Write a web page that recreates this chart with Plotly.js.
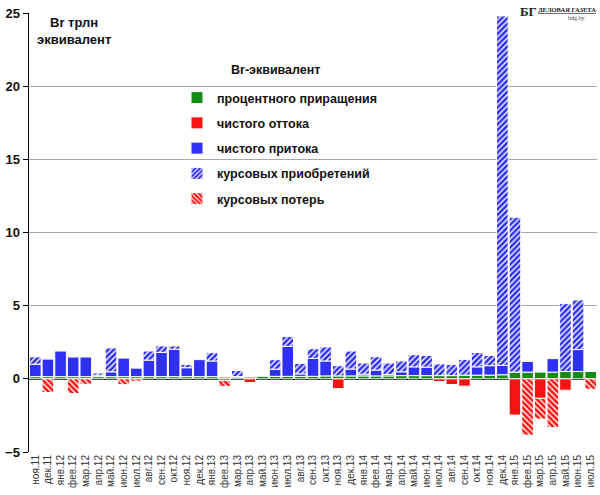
<!DOCTYPE html>
<html>
<head>
<meta charset="utf-8">
<script src="https://cdn.plot.ly/plotly-3.0.1.min.js"></script>
<style>
	body { margin: 0; background: #fff; }
	#chart { width: 600px; height: 495px; outline: 1px solid #9a9a9a; outline-offset: -1px; }
</style>
</head>
<body>
<div id="chart"></div>
<script>

// months, Nov 2011 .. Jul 2015
const months = [
	'ноя.11','дек.11',
	'янв.12','фев.12','мар.12','апр.12','май.12','июн.12','июл.12','авг.12','сен.12','окт.12','ноя.12','дек.12',
	'янв.13','фев.13','мар.13','апр.13','май.13','июн.13','июл.13','авг.13','сен.13','окт.13','ноя.13','дек.13',
	'янв.14','фев.14','мар.14','апр.14','май.14','июн.14','июл.14','авг.14','сен.14','окт.14','ноя.14','дек.14',
	'янв.15','фев.15','мар.15','апр.15','май.15','июн.15','июл.15'
];

// процентного приращения
const interestGain = [
	0.15,0.15,
	0.15,0.15,0.15,0.15,0.15,0.15,0.15,0.15,0.15,0.15,0.15,0.15,
	0.15,0.12,0.12,0.12,0.17,0.17,0.17,0.17,0.17,0.2,0.2,0.2,
	0.2,0.2,0.2,0.22,0.22,0.22,0.22,0.22,0.25,0.25,0.25,0.28,
	0.46,0.46,0.46,0.46,0.5,0.5,0.5
];

// чистого оттока
const netOutflow = [
	null,null,
	null,null,null,null,null,null,null,null,null,null,null,null,
	null,-0.12,null,-0.25,null,null,null,null,null,null,-0.67,null,
	null,null,null,null,null,null,-0.19,-0.39,-0.5,null,null,null,
	-2.48,null,-1.33,null,-0.78,null,null
];

// чистого притока
const netInflow = [
	0.85,1.2,
	1.75,1.34,1.34,0.1,0.33,1.27,0.58,1.13,1.66,1.87,0.61,1.16,
	1.07,null,0.03,null,null,0.49,2.05,0.17,1.23,1.02,null,0.47,
	0.12,0.4,0.1,0.26,0.6,0.58,null,null,null,0.57,0.65,0.64,
	null,0.73,null,0.92,null,1.5,null
];

// курсовых приобретений
const fxGains = [
	0.5,null,
	null,null,null,0.15,1.63,null,null,0.62,0.44,0.23,0.23,null,
	0.57,null,0.42,null,null,0.65,0.67,0.72,0.66,0.96,0.7,1.23,
	0.76,0.91,0.78,0.74,0.83,0.8,0.8,0.75,1.08,0.98,0.7,23.88,
	10.58,null,null,null,4.64,3.39,null
];

// курсовых потерь
const fxLosses = [
	null,-0.94,
	null,-1.0,-0.37,null,null,-0.4,-0.16,null,null,null,null,null,
	null,-0.4,null,null,null,null,null,null,null,null,null,null,
	null,null,null,null,null,null,null,null,null,null,null,null,
	null,-3.85,-1.42,-3.33,null,null,-0.71
];

(function () {

	'use strict';

	const green = '#158a15';
	const red = '#f51414';
	const blue = '#3030f2';

	const font = 'Liberation Sans, Arial, sans-serif';
	const serif = 'Liberation Serif, serif';

	/**
	* one stacked bar trace
	*/
	const barTrace = ( name, y, color, hatch ) => {
		const marker = {
			color,
			line: { color: '#ffffff', width: 1 }
		};
		if ( hatch ) {
			marker.pattern = {
				shape: hatch,
				bgcolor: color,
				fgcolor: '#ffffff',
				size: 4,
				solidity: 0.35
			};
		}
		return {
			type: 'bar',
			x: months,
			y,
			name,
			marker,
			legendgroup: name,
			hoverinfo: 'x+y+name'
		};
	};

	const data = [
		barTrace( 'процентного приращения', interestGain, green ),
		barTrace( 'чистого оттока', netOutflow, red ),
		barTrace( 'чистого притока', netInflow, blue ),
		barTrace( 'курсовых приобретений', fxGains, blue, '/' ),
		barTrace( 'курсовых потерь', fxLosses, red, '\\' ),
	];

	// paper coords from picture pixels (plot area 29..597 x 13..452)
	const px = ( x ) => ( x - 29 ) / 568;
	const py = ( y ) => 1 - ( y - 13 ) / 439;

	const bold = ( size ) => ({ family: font, size, weight: 700, color: '#111' });

	const layout = {
		width: 600,
		height: 495,
		margin: { l: 29, r: 3, t: 13, b: 43 },
		paper_bgcolor: '#ffffff',
		plot_bgcolor: '#ffffff',
		barmode: 'relative',
		bargap: 0.08,
		font: { family: font, color: '#111' },
		showlegend: true,
		legend: {
			x: px( 177 ),
			y: py( 83 ),
			xanchor: 'left',
			yanchor: 'top',
			bgcolor: 'rgba(0,0,0,0)',
			traceorder: 'grouped',
			tracegroupgap: 6,
			itemwidth: 30,
			font: bold( 12.5 )
		},
		xaxis: {
			type: 'category',
			tickmode: 'linear',
			dtick: 1,
			tickangle: -90,
			tickfont: { family: font, size: 10, color: '#333' },
			showgrid: false,
			showline: false,
			ticks: '',
			fixedrange: true
		},
		yaxis: {
			range: [ -5, 25 ],
			tickvals: [ -5, 0, 5, 10, 15, 20, 25 ],
			tickfont: bold( 13 ),
			ticks: 'outside',
			ticklen: 5,
			tickcolor: '#000',
			showline: true,
			linecolor: '#000',
			linewidth: 1.5,
			showgrid: true,
			gridcolor: '#a8a8a8',
			gridwidth: 1,
			zeroline: true,
			zerolinecolor: '#000',
			zerolinewidth: 2,
			fixedrange: true
		},
		annotations: [
			{
				text: 'Br трлн<br>эквивалент',
				xref: 'paper', yref: 'paper',
				x: px( 74 ), y: 1.0,
				xanchor: 'center', yanchor: 'top',
				showarrow: false,
				align: 'center',
				font: bold( 13 )
			},
			// legend title
			{
				text: 'Br-эквивалент',
				xref: 'paper', yref: 'paper',
				x: px( 275 ), y: py( 70 ),
				xanchor: 'center', yanchor: 'middle',
				showarrow: false,
				font: bold( 12.5 )
			},
			// logo
			{
				text: 'БГ',
				xref: 'paper', yref: 'paper',
				x: px( 539 ), y: py( 11 ),
				xanchor: 'right', yanchor: 'middle',
				showarrow: false,
				font: { family: serif, size: 13, weight: 700, color: '#222' }
			},
			{
				text: '<u>ДЕЛОВАЯ ГАЗЕТА</u>',
				xref: 'paper', yref: 'paper',
				x: px( 598 ), y: py( 9 ),
				xanchor: 'right', yanchor: 'middle',
				showarrow: false,
				font: { family: serif, size: 6.5, weight: 700, color: '#222' }
			},
			{
				text: 'bdg.by',
				xref: 'paper', yref: 'paper',
				x: px( 576 ), y: py( 18 ),
				xanchor: 'center', yanchor: 'middle',
				showarrow: false,
				font: { family: serif, size: 6, color: '#444' }
			}
		]
	};

	Plotly.newPlot(
		document.getElementById( 'chart' ),
		data,
		layout,
		{ displayModeBar: false, staticPlot: true }
	);

})();
</script>
</body>
</html>
